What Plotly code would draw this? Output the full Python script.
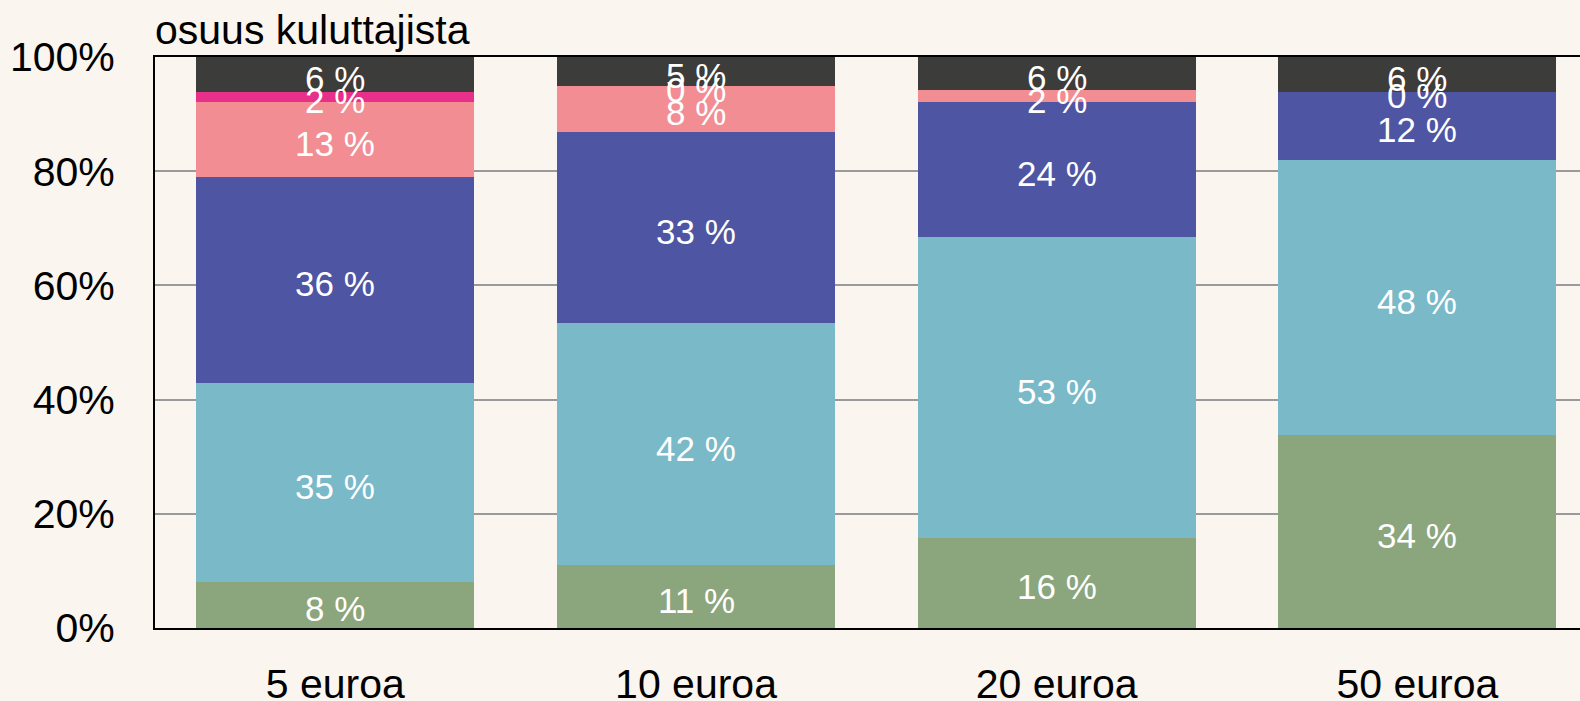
import numpy as np
import plotly.graph_objects as go

categories = ["5 euroa", "10 euroa", "20 euroa", "50 euroa"]

# shares (%) bottom -> top; None = no label drawn
green = [8.1, 11.0, 15.8, 33.8]
lightblue = [34.8, 42.4, 52.6, 48.2]
darkblue = [36.1, 33.4, 23.7, 11.9]
pink = [13.1, 8.2, 2.1, None]
magenta = [1.8, 0.0, None, 0.0]
darkgray = [6.1, 5.0, 5.8, 6.1]

y_ticks = [0, 20, 40, 60, 80, 100]
y_ticktext = ["0%", "20%", "40%", "60%", "80%", "100%"]

series = [
    ("green", green, "#8BA57C"),
    ("lightblue", lightblue, "#79B9C8"),
    ("darkblue", darkblue, "#4E55A3"),
    ("pink", pink, "#F28D94"),
    ("magenta", magenta, "#E6308A"),
    ("darkgray", darkgray, "#3C3C3A"),
]

BG = "#FAF5EF"
FONT = "Liberation Sans, Arial, sans-serif"

fig = go.Figure()
cum = np.zeros(len(categories))
annotations = []
for name, vals, col in series:
    v = np.array([0.0 if x is None else x for x in vals])
    fig.add_trace(go.Bar(
        x=categories, y=v, name=name, marker=dict(color=col, line=dict(width=0)),
        hoverinfo="skip", showlegend=False,
    ))
    for i, x in enumerate(vals):
        if x is not None:
            annotations.append(dict(
                x=categories[i], y=cum[i] + v[i] / 2, xref="x", yref="y",
                text=f"{round(x)} %", showarrow=False, yshift=-4,
                font=dict(family=FONT, size=35, color="white"),
            ))
    cum = cum + v

annotations.append(dict(
    text="osuus kuluttajista", xref="paper", yref="paper",
    x=0, y=1, xanchor="left", yanchor="bottom", showarrow=False,
    font=dict(family=FONT, size=41, color="black"), xshift=-2, yshift=2,
))

fig.update_layout(
    width=1580, height=701,
    barmode="stack", bargap=0.23,
    paper_bgcolor=BG, plot_bgcolor=BG,
    margin=dict(l=155, r=0, t=57, b=73, autoexpand=False),
    font=dict(family=FONT, color="black"),
    xaxis=dict(
        type="category", range=[-0.5, 3.451], automargin=False,
        showline=True, linecolor="black", linewidth=2, mirror=True,
        ticks="", tickfont=dict(size=41, color="black"),
        ticklabelstandoff=19, showgrid=False,
    ),
    yaxis=dict(
        range=[0, 100], tickvals=y_ticks, ticktext=y_ticktext, automargin=False,
        showline=True, linecolor="black", linewidth=2,
        showgrid=True, gridcolor="#9A9A9A", gridwidth=2,
        ticks="", tickfont=dict(size=41, color="black"),
        ticklabelstandoff=30, zeroline=False,
    ),
    annotations=annotations,
)

fig.write_html(
    "out.html",
    config={"displayModeBar": False},
    post_script=(
        "document.body.style.margin='0';"
        "document.body.style.padding='0';"
        "document.body.style.overflow='hidden';"
        f"document.body.style.background='{BG}';"
    ),
)
